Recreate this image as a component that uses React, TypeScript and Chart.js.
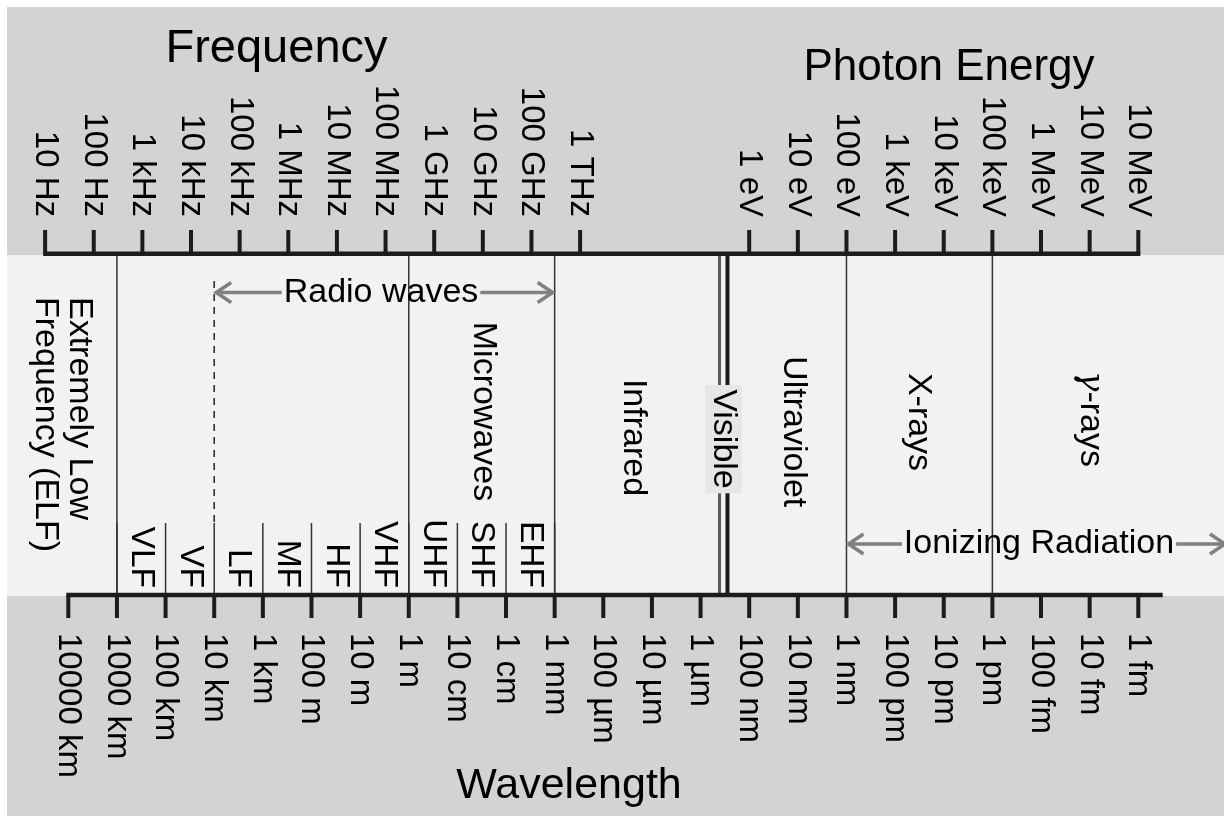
import React, { useEffect, useRef } from "react";
import { Chart, registerables } from "chart.js";

Chart.register(...registerables);

// ---------- DATA (x axis unit: log10 of frequency in Hz) ----------
const LOG_C = Math.log10(299792458); // log10 of speed of light (m/s)

const frequencyTickLabels = [
  "10 Hz", "100 Hz", "1 kHz", "10 kHz", "100 kHz", "1 MHz",
  "10 MHz", "100 MHz", "1 GHz", "10 GHz", "100 GHz", "1 THz",
];
const frequencyTickExponents = [1, 2, 3, 4, 5, 6, 7, 8, 9, 10, 11, 12];

const wavelengthTickLabels = [
  "10000 km", "1000 km", "100 km", "10 km", "1 km", "100 m", "10 m", "1 m",
  "10 cm", "1 cm", "1 mm", "100 µm", "10 µm", "1 µm", "100 nm", "10 nm",
  "1 nm", "100 pm", "10 pm", "1 pm", "100 fm", "10 fm", "1 fm",
];
const wavelengthTickExponents = [
  7, 6, 5, 4, 3, 2, 1, 0, -1, -2, -3, -4, -5, -6, -7, -8, -9, -10, -11, -12, -13, -14, -15,
];

const energyTickLabels = [
  "1 eV", "10 eV", "100 eV", "1 keV", "10 keV", "100 keV", "1 MeV", "10 MeV", "10 MeV",
];
// wavelength exponents at which the energy ticks sit in the figure
const energyTickWavelengthExponents = [-7, -8, -9, -10, -11, -12, -13, -14, -15];

// full-height band boundaries (wavelength exponents): 1000 km, 1 m, 1 mm, 1 nm, 1 pm
const bandBoundaryExponents = [6, 0, -3, -9, -12];
// radio sub-band edges (wavelength exponents)
const subBandEdgeExponents = [6, 5, 4, 3, 2, 1, 0, -1, -2, -3];
const subBandLabels = ["VLF", "VF", "LF", "MF", "HF", "VHF", "UHF", "SHF", "EHF"];
// dashed start of radio waves (10 km)
const radioStartExponent = 4;
// visible band edges (log10 Hz)
const visibleEdgesLogF = [14.866, 15.03];

// rotated region labels and their anchor (log10 Hz)
const regionLabels = ["Microwaves", "Infrared", "Visible", "Ultraviolet", "X-rays", "γ-rays"];
const regionLabelLogF = [10.003, 13.088, 14.95, 16.377, 18.957, 22.484];
const elfLabelLines = ["Extremely Low", "Frequency (ELF)"];
const elfLabelLogF = 1.347;

// arrow labels: from / to (log10 Hz), label anchor (log10 Hz)
const arrowLabels = ["Radio waves", "Ionizing Radiation"];
const arrowFromLogF = [LOG_C - 4, LOG_C + 9];
const arrowToLogF = [LOG_C + 3, 25.3];
const arrowLabelLogF = [7.906, 21.435];

// ---------- LAYOUT (pixels) ----------
const W = 1224;
const H = 816;
const X_MIN = 0.0725;
const X_MAX = 25.239;
const BG_LEFT = 7;
const BG_TOP = 7;
const BAND_TOP = 255;
const BAND_BOTTOM = 596;
const TOP_AXIS_Y = 253.8;
const TOP_TICK_Y = 230;
const BOTTOM_AXIS_Y = 595;
const BOTTOM_TICK_Y = 618;
const SUB_BAND_TOP = 523;
const DASH_TOP = 281;
const regionLabelCenterY = [411.5, 437.5, 439, 431.7, 422, 419];
const arrowY = [292.5, 544];

const FONT = "'Liberation Sans', Arial, Helvetica, sans-serif";
const GREEK_FONT = "italic 34px 'DejaVu Serif', 'Liberation Serif', serif";
const GRAY_BG = "#d3d3d3";
const LIGHT_BG = "#f2f2f2";
const AXIS_COLOR = "#1c1c1c";
const SEP_COLOR = "#333333";
const ARROW_COLOR = "#808080";

const wl = (e: number) => LOG_C - e;

function vText(ctx: CanvasRenderingContext2D, text: string, x: number, y: number, align: CanvasTextAlign) {
  ctx.save();
  ctx.translate(x, y);
  ctx.rotate(Math.PI / 2);
  ctx.textAlign = align;
  ctx.textBaseline = "middle";
  ctx.fillText(text, 0, 0);
  ctx.restore();
}

function vLine(ctx: CanvasRenderingContext2D, x: number, y0: number, y1: number, w: number, color: string) {
  ctx.beginPath();
  ctx.strokeStyle = color;
  ctx.lineWidth = w;
  ctx.moveTo(x, y0);
  ctx.lineTo(x, y1);
  ctx.stroke();
}

function chevron(ctx: CanvasRenderingContext2D, tipX: number, y: number, dir: number) {
  ctx.beginPath();
  ctx.moveTo(tipX - dir * 15, y - 10);
  ctx.lineTo(tipX, y);
  ctx.lineTo(tipX - dir * 15, y + 10);
  ctx.stroke();
}

const spectrumPlugin = {
  id: "spectrum",
  afterDraw(chart: any) {
    const ctx: CanvasRenderingContext2D = chart.ctx;
    const xs = chart.scales.x;
    const px = (v: number) => xs.getPixelForValue(v);
    ctx.save();

    // backgrounds
    ctx.fillStyle = GRAY_BG;
    ctx.fillRect(BG_LEFT, BG_TOP, W - BG_LEFT, H - BG_TOP);
    ctx.fillStyle = LIGHT_BG;
    ctx.fillRect(BG_LEFT, BAND_TOP, W - BG_LEFT, BAND_BOTTOM - BAND_TOP);

    ctx.lineCap = "butt";
    bandBoundaryExponents.forEach((e) => vLine(ctx, px(wl(e)), BAND_TOP, BOTTOM_AXIS_Y, 1.5, SEP_COLOR));
    subBandEdgeExponents.forEach((e) => vLine(ctx, px(wl(e)), SUB_BAND_TOP, BOTTOM_AXIS_Y, 1.5, SEP_COLOR));
    ctx.save();
    ctx.setLineDash([7, 6]);
    vLine(ctx, px(wl(radioStartExponent)), DASH_TOP, SUB_BAND_TOP, 1.5, "#222");
    ctx.restore();

    // visible band lines
    vLine(ctx, px(visibleEdgesLogF[0]), BAND_TOP, BOTTOM_AXIS_Y, 3, "#5a5a5a");
    vLine(ctx, px(visibleEdgesLogF[1]), BAND_TOP, BOTTOM_AXIS_Y, 4, "#1a1a1a");

    // top axis
    const topStart = px(frequencyTickExponents[0]) - 2;
    const topEnd = px(wl(energyTickWavelengthExponents[energyTickWavelengthExponents.length - 1])) + 2;
    ctx.beginPath();
    ctx.strokeStyle = AXIS_COLOR;
    ctx.lineWidth = 4.5;
    ctx.moveTo(topStart, TOP_AXIS_Y);
    ctx.lineTo(topEnd, TOP_AXIS_Y);
    ctx.stroke();
    frequencyTickExponents.forEach((e) => vLine(ctx, px(e), TOP_TICK_Y, TOP_AXIS_Y, 4, AXIS_COLOR));
    energyTickWavelengthExponents.forEach((e) => vLine(ctx, px(wl(e)), TOP_TICK_Y, TOP_AXIS_Y, 4, AXIS_COLOR));

    // bottom axis
    const botStart = px(wl(wavelengthTickExponents[0])) - 2;
    ctx.beginPath();
    ctx.strokeStyle = AXIS_COLOR;
    ctx.lineWidth = 4.5;
    ctx.moveTo(botStart, BOTTOM_AXIS_Y);
    ctx.lineTo(1162.7, BOTTOM_AXIS_Y);
    ctx.stroke();
    wavelengthTickExponents.forEach((e) => vLine(ctx, px(wl(e)), BOTTOM_AXIS_Y, BOTTOM_TICK_Y, 4, AXIS_COLOR));

    // tick labels
    ctx.fillStyle = "#000";
    ctx.font = `33px ${FONT}`;
    frequencyTickExponents.forEach((e, i) => vText(ctx, frequencyTickLabels[i], px(e), 217, "right"));
    energyTickWavelengthExponents.forEach((e, i) => vText(ctx, energyTickLabels[i], px(wl(e)), 217, "right"));
    wavelengthTickExponents.forEach((e, i) => vText(ctx, wavelengthTickLabels[i], px(wl(e)), 633, "left"));

    // titles
    ctx.textAlign = "center";
    ctx.textBaseline = "alphabetic";
    ctx.font = `47px ${FONT}`;
    ctx.fillText("Frequency", 276.5, 61.7);
    ctx.font = `44px ${FONT}`;
    ctx.fillText("Photon Energy", 949, 80);
    ctx.font = `43px ${FONT}`;
    ctx.fillText("Wavelength", 569, 798);

    // sub-band labels
    ctx.font = `33.5px ${FONT}`;
    subBandLabels.forEach((lab, i) => {
      const cx = (px(wl(subBandEdgeExponents[i])) + px(wl(subBandEdgeExponents[i + 1]))) / 2;
      vText(ctx, lab, cx, 588, "right");
    });

    // region labels
    ctx.font = `34px ${FONT}`;
    regionLabels.forEach((lab, i) => {
      const cx = px(regionLabelLogF[i]);
      const cy = regionLabelCenterY[i];
      if (lab === "Visible") {
        const vx = (px(visibleEdgesLogF[0]) + px(visibleEdgesLogF[1])) / 2;
        ctx.fillStyle = "#e6e6e6";
        ctx.fillRect(vx - 18.3, 385, 36.6, 108.3);
        ctx.fillStyle = "#000";
        vText(ctx, lab, vx, cy, "center");
      } else if (lab.startsWith("γ")) {
        const rest = lab.slice(1);
        ctx.font = GREEK_FONT;
        const wg = ctx.measureText("γ").width;
        ctx.font = `34px ${FONT}`;
        const wr = ctx.measureText(rest).width;
        const start = cy - (wg + wr) / 2;
        ctx.font = GREEK_FONT;
        vText(ctx, "γ", cx, start, "left");
        ctx.font = `34px ${FONT}`;
        vText(ctx, rest, cx, start + wg, "left");
      } else {
        vText(ctx, lab, cx, cy, "center");
      }
    });
    const elfX = px(elfLabelLogF);
    vText(ctx, elfLabelLines[0], elfX + 17, 297, "left");
    vText(ctx, elfLabelLines[1], elfX - 17, 297, "left");

    // arrow labels
    arrowLabels.forEach((lab, i) => {
      const y = arrowY[i];
      const cx = px(arrowLabelLogF[i]);
      ctx.font = `34px ${FONT}`;
      const w = ctx.measureText(lab).width;
      ctx.fillStyle = "#000";
      ctx.textAlign = "center";
      ctx.textBaseline = "middle";
      ctx.fillText(lab, cx, y);
      const x0 = px(arrowFromLogF[i]) + 2;
      const x1 = px(arrowToLogF[i]) - 2;
      ctx.strokeStyle = ARROW_COLOR;
      ctx.lineWidth = 3.5;
      ctx.lineJoin = "miter";
      ctx.beginPath();
      ctx.moveTo(x0, y);
      ctx.lineTo(cx - w / 2 - 2, y);
      ctx.moveTo(cx + w / 2 + 2, y);
      ctx.lineTo(x1, y);
      ctx.stroke();
      chevron(ctx, x0, y, -1);
      chevron(ctx, x1, y, 1);
    });

    ctx.restore();
  },
};

export default function App() {
  const canvasRef = useRef<HTMLCanvasElement | null>(null);

  useEffect(() => {
    const canvas = canvasRef.current;
    if (!canvas) return;
    const chart = new Chart(canvas, {
      type: "scatter",
      data: { datasets: [] },
      options: {
        animation: false,
        responsive: false,
        devicePixelRatio: 1,
        layout: { padding: 0 },
        events: [],
        plugins: { legend: { display: false }, tooltip: { enabled: false }, title: { display: false } },
        scales: {
          x: { type: "linear", min: X_MIN, max: X_MAX, display: false },
          y: { type: "linear", min: 0, max: 1, display: false },
        },
      },
      plugins: [spectrumPlugin],
    } as any);
    return () => chart.destroy();
  }, []);

  return (
    <div style={{ position: "absolute", left: 0, top: 0, width: W, height: H, overflow: "hidden" }}>
      <canvas ref={canvasRef} width={W} height={H} style={{ display: "block" }} />
    </div>
  );
}
